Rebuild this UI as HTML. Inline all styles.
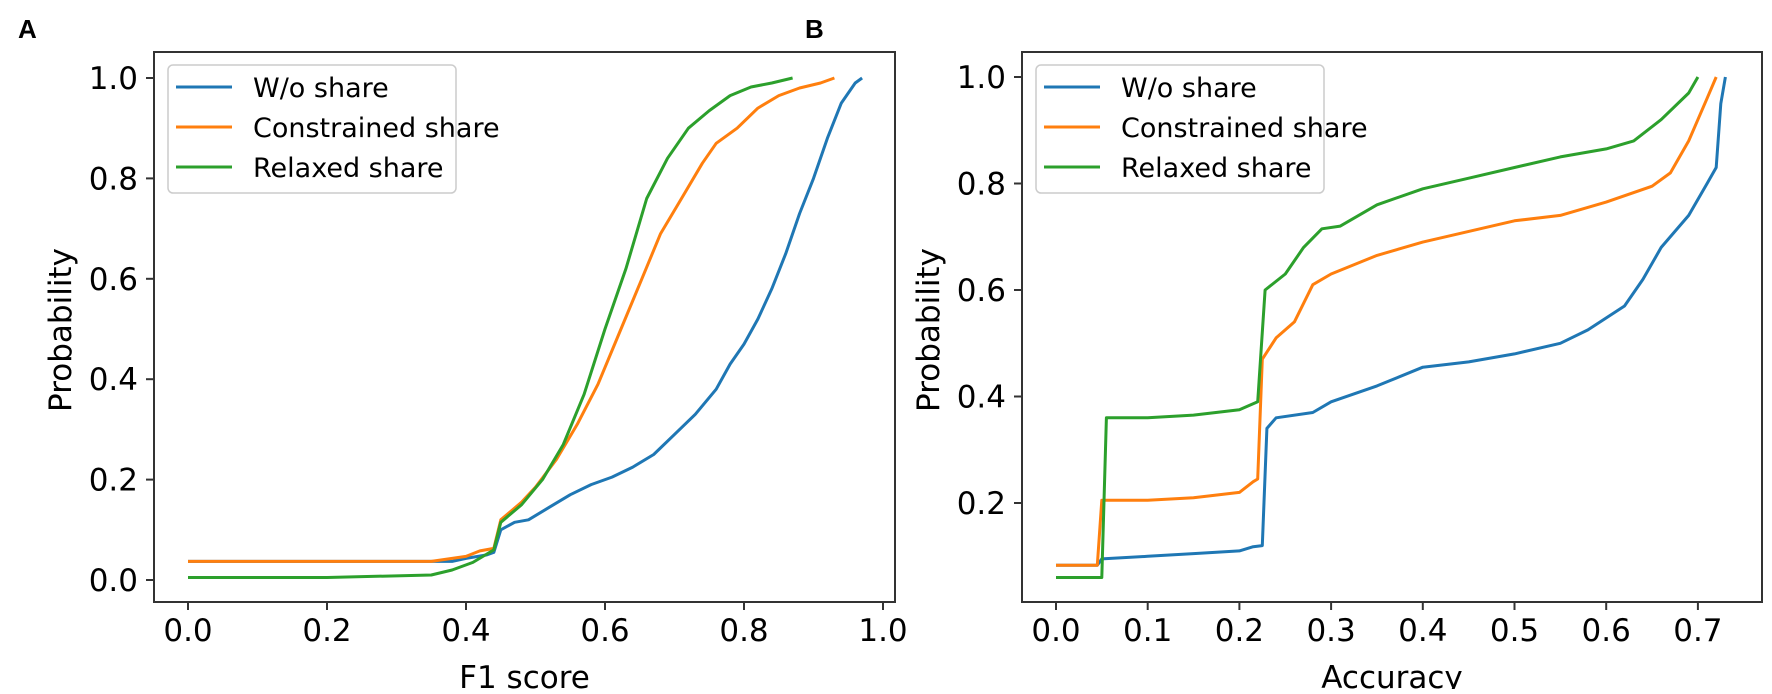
<!DOCTYPE html>
<html><head><meta charset="utf-8"><style>
body{margin:0;background:#fff;}
svg text{font-family:"DejaVu Sans","Liberation Sans",sans-serif;fill:#000;}
</style></head><body>
<svg id="s" width="1772" height="689" viewBox="0 0 1772 689" xmlns="http://www.w3.org/2000/svg">
<rect width="1772" height="689" fill="#fff"/>
<text x="18" y="38" font-size="26" font-weight="bold" style="font-family:'Liberation Sans',sans-serif">A</text>
<text x="805" y="38" font-size="26" font-weight="bold" style="font-family:'Liberation Sans',sans-serif">B</text>
<g id="g"></g>
</svg>
<script>
var NS="http://www.w3.org/2000/svg",g=document.getElementById('g');
function el(t,a,txt){var e=document.createElementNS(NS,t);for(var k in a)e.setAttribute(k,a[k]);if(txt)e.textContent=txt;g.appendChild(e);return e;}
var C={b:'#1f77b4',o:'#ff7f0e',g:'#2ca02c'};
function panel(P){
 var X=function(v){return P.x0+v*P.xs},Y=function(v){return P.y0-v*P.ys};
 for(var k in P.d){var pts=P.d[k].map(function(p){return X(p[0]).toFixed(1)+','+Y(p[1]).toFixed(1)}).join(' ');
  el('polyline',{points:pts,fill:'none',stroke:C[k],'stroke-width':3,'stroke-linejoin':'round'});}
 el('rect',{x:P.L,y:52,width:P.R-P.L,height:550,fill:'none',stroke:'#333','stroke-width':2});
 P.xt.forEach(function(v){var x=X(v);el('line',{x1:x,y1:602,x2:x,y2:610,stroke:'#333','stroke-width':2});
  el('text',{x:x,y:641,'font-size':31,'text-anchor':'middle'},v.toFixed(1));});
 P.yt.forEach(function(v){var y=Y(v);el('line',{x1:P.L-8,y1:y,x2:P.L,y2:y,stroke:'#333','stroke-width':2});
  el('text',{x:P.L-16,y:y+11,'font-size':31,'text-anchor':'end'},v.toFixed(1));});
 el('text',{x:(P.L+P.R)/2,y:688,'font-size':31,'text-anchor':'middle'},P.xl);
 el('text',{x:0,y:0,'font-size':31,'text-anchor':'middle',transform:'translate('+(P.L-83)+',330) rotate(-90)'},'Probability');
 var lx=P.L+14;
 el('rect',{x:lx,y:65,width:288,height:128,rx:5,fill:'#fff','fill-opacity':0.85,stroke:'#ccc','stroke-width':1.5});
 [['b','W/o share'],['o','Constrained share'],['g','Relaxed share']].forEach(function(r,i){var y=87+i*40;
  el('line',{x1:lx+8,y1:y,x2:lx+64,y2:y,stroke:C[r[0]],'stroke-width':3});
  el('text',{x:lx+85,y:y+10,'font-size':27},r[1]);});
}
panel({x0:188,xs:695,y0:580,ys:502,L:154,R:895,xl:'F1 score',xt:[0,0.2,0.4,0.6,0.8,1.0],yt:[0,0.2,0.4,0.6,0.8,1.0],d:{
b:[[0,.037],[.38,.037],[.40,.043],[.43,.05],[.44,.055],[.45,.10],[.47,.115],[.49,.12],[.52,.145],[.55,.17],[.58,.19],[.61,.205],[.64,.225],[.67,.25],[.70,.29],[.73,.33],[.76,.38],[.78,.43],[.80,.47],[.82,.52],[.84,.58],[.86,.65],[.88,.73],[.90,.80],[.92,.88],[.94,.95],[.96,.99],[.97,1]],
o:[[0,.037],[.35,.037],[.40,.047],[.42,.058],[.44,.063],[.45,.12],[.48,.155],[.50,.185],[.53,.24],[.56,.31],[.59,.39],[.62,.49],[.65,.59],[.68,.69],[.71,.76],[.74,.83],[.76,.87],[.79,.90],[.82,.94],[.85,.965],[.88,.98],[.91,.99],[.93,1]],
g:[[0,.005],[.2,.005],[.35,.01],[.38,.02],[.41,.035],[.44,.06],[.45,.115],[.48,.15],[.51,.2],[.54,.27],[.57,.37],[.60,.5],[.63,.62],[.66,.76],[.69,.84],[.72,.90],[.75,.935],[.78,.965],[.81,.982],[.84,.99],[.87,1]]}});
panel({x0:1056,xs:917,y0:609.5,ys:532.5,L:1022,R:1762,xl:'Accuracy',xt:[0,.1,.2,.3,.4,.5,.6,.7],yt:[0.2,0.4,0.6,0.8,1.0],d:{
b:[[0,.083],[.045,.083],[.05,.095],[.1,.10],[.15,.105],[.2,.11],[.215,.118],[.225,.12],[.23,.34],[.24,.36],[.28,.37],[.30,.39],[.35,.42],[.40,.455],[.45,.465],[.50,.48],[.55,.5],[.58,.525],[.62,.57],[.64,.62],[.66,.68],[.69,.74],[.71,.80],[.72,.83],[.725,.95],[.73,1]],
o:[[0,.083],[.045,.083],[.05,.205],[.1,.205],[.15,.21],[.2,.22],[.215,.24],[.22,.245],[.225,.47],[.24,.51],[.26,.54],[.28,.61],[.30,.63],[.35,.665],[.40,.69],[.45,.71],[.50,.73],[.55,.74],[.60,.765],[.65,.795],[.67,.82],[.69,.88],[.71,.96],[.72,1]],
g:[[0,.06],[.05,.06],[.055,.36],[.1,.36],[.15,.365],[.2,.375],[.22,.39],[.228,.6],[.25,.63],[.27,.68],[.29,.715],[.31,.72],[.35,.76],[.40,.79],[.45,.81],[.50,.83],[.55,.85],[.60,.865],[.63,.88],[.66,.92],[.69,.97],[.70,1]]}});
</script>
</body></html>
